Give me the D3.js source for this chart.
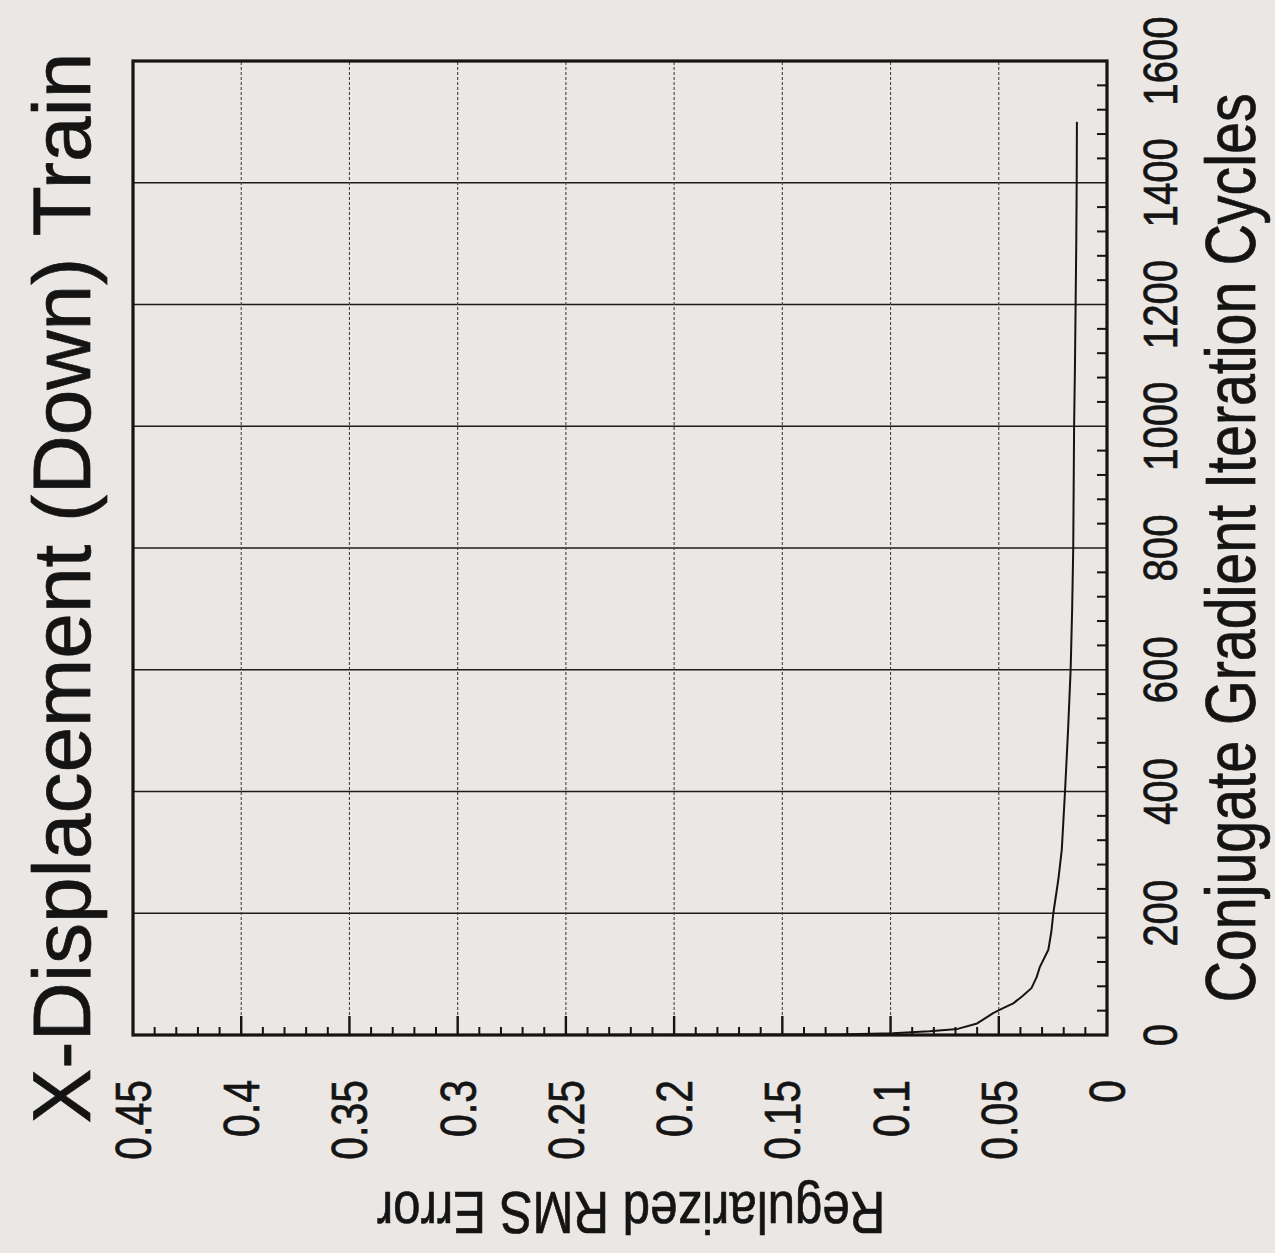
<!DOCTYPE html>
<html>
<head>
<meta charset="utf-8">
<script src="https://cdn.jsdelivr.net/npm/d3@7"></script>
<style>
  html, body { margin: 0; padding: 0; background: #eae7e4; }
  svg { display: block; }
</style>
</head>
<body>
<svg id="chart" width="1275" height="1253"></svg>
<script>
// Training history: regularized RMS error per conjugate gradient cycle
const iterations = [0, 1, 3, 6, 10, 19, 28, 36, 44, 52, 64, 77, 95, 112, 140, 170, 200, 255, 304,
                    400, 500, 600, 700, 800, 900, 1000, 1100, 1200, 1300, 1400, 1500];
const rmsError   = [0.30, 0.125, 0.099, 0.082, 0.069, 0.060, 0.056, 0.0526, 0.048, 0.0433, 0.039, 0.0349,
                    0.0325, 0.031, 0.0271, 0.0257, 0.0248, 0.0225, 0.0209,
                    0.0194, 0.0180, 0.0168, 0.0161, 0.0156, 0.0154, 0.0152, 0.0148, 0.0145, 0.0142, 0.0140, 0.0139];

const iterTickValues = [0, 200, 400, 600, 800, 1000, 1200, 1400, 1600];
const iterTickLabels = ["0", "200", "400", "600", "800", "1000", "1200", "1400", "1600"];
const errTickValues  = [0, 0.05, 0.1, 0.15, 0.2, 0.25, 0.3, 0.35, 0.4, 0.45];
const errTickLabels  = ["0", "0.05", "0.1", "0.15", "0.2", "0.25", "0.3", "0.35", "0.4", "0.45"];

const titleText = "X-Displacement (Down) Train";
const xTitle = "Conjugate Gradient Iteration Cycles";
const yTitle = "Regularized RMS Error";

const W = 974, H = 974;
const FONT = "'Liberation Sans', Arial, Helvetica, sans-serif";
const INK = "#141414";
const NARROW = 0.82;

const svg = d3.select("#chart");
svg.append("rect").attr("width", 1275).attr("height", 1253).attr("fill", "#eae7e4");

// The page is printed sideways: the plot is laid out normally, then turned a quarter turn.
const g = svg.append("g").attr("transform", "translate(133,1035) rotate(-90)");

const x = d3.scaleLinear().domain([0, 1600]).range([0, W]);
const y = d3.scaleLinear().domain([0, 0.45]).range([H, 0]);

// grid: solid lines at the iteration majors, dotted lines at the error majors
g.append("g").selectAll("line")
  .data(iterTickValues.filter(v => v > 0 && v < 1600))
  .join("line")
  .attr("x1", d => x(d)).attr("x2", d => x(d))
  .attr("y1", 0).attr("y2", H)
  .attr("stroke", "#1c1c1c").attr("stroke-width", 1.6);

g.append("g").selectAll("line")
  .data(errTickValues.filter(v => v > 0 && v < 0.45))
  .join("line")
  .attr("x1", 0).attr("x2", W)
  .attr("y1", d => y(d)).attr("y2", d => y(d))
  .attr("stroke", "#444").attr("stroke-width", 1.1)
  .attr("stroke-dasharray", "3,2");

// solid stubs where the error majors meet the axis
g.append("g").selectAll("line")
  .data(errTickValues.filter(v => v > 0 && v < 0.45))
  .join("line")
  .attr("x1", 0).attr("x2", 19)
  .attr("y1", d => y(d)).attr("y2", d => y(d))
  .attr("stroke", INK).attr("stroke-width", 2.4);

// minor ticks, pointing into the plot
const iterMinor = d3.range(40, 1600, 40).filter(v => v % 200 !== 0);
g.append("g").selectAll("line")
  .data(iterMinor)
  .join("line")
  .attr("x1", d => x(d)).attr("x2", d => x(d))
  .attr("y1", H).attr("y2", H - 10)
  .attr("stroke", INK).attr("stroke-width", 2);

const errMinor = d3.range(1, 45).filter(i => i % 5 !== 0).map(i => i / 100);
g.append("g").selectAll("line")
  .data(errMinor)
  .join("line")
  .attr("x1", 0).attr("x2", 8)
  .attr("y1", d => y(d)).attr("y2", d => y(d))
  .attr("stroke", INK).attr("stroke-width", 2);

// data curve
const line = d3.line().x((d, i) => x(iterations[i])).y(d => y(d));
g.append("path")
  .datum(rmsError)
  .attr("d", line)
  .attr("fill", "none")
  .attr("stroke", INK)
  .attr("stroke-width", 2)
  .attr("stroke-linejoin", "round");

// frame
g.append("rect")
  .attr("x", 0).attr("y", 0).attr("width", W).attr("height", H)
  .attr("fill", "none").attr("stroke", INK).attr("stroke-width", 3.2);

// condensed text helper
function label(parent, tx, ty, rot, text, size, anchor, dy, squeeze) {
  parent.append("g")
    .attr("transform", `translate(${tx},${ty}) rotate(${rot}) scale(${squeeze},1)`)
    .append("text")
    .attr("text-anchor", anchor)
    .attr("dy", dy)
    .attr("font-family", FONT)
    .attr("font-size", size)
    .attr("fill", INK)
    .attr("stroke", INK)
    .attr("stroke-width", 0.7)
    .text(text);
}

// tick labels
iterTickValues.forEach((v, i) => label(g, x(v), H + 70, 0, iterTickLabels[i], 49, "middle", 0, NARROW));
errTickValues.forEach((v, i) => label(g, -45, y(v), 0, errTickLabels[i], 50, "end", "0.36em", NARROW));

// titles
label(g, 447, -43, 0, titleText, 82, "middle", 0, 1);
label(g, 487, H + 148, 0, xTitle, 70, "middle", 0, NARROW);
label(g, -157, 498, -90, yTitle, 60, "middle", 0, NARROW);
</script>
</body>
</html>
